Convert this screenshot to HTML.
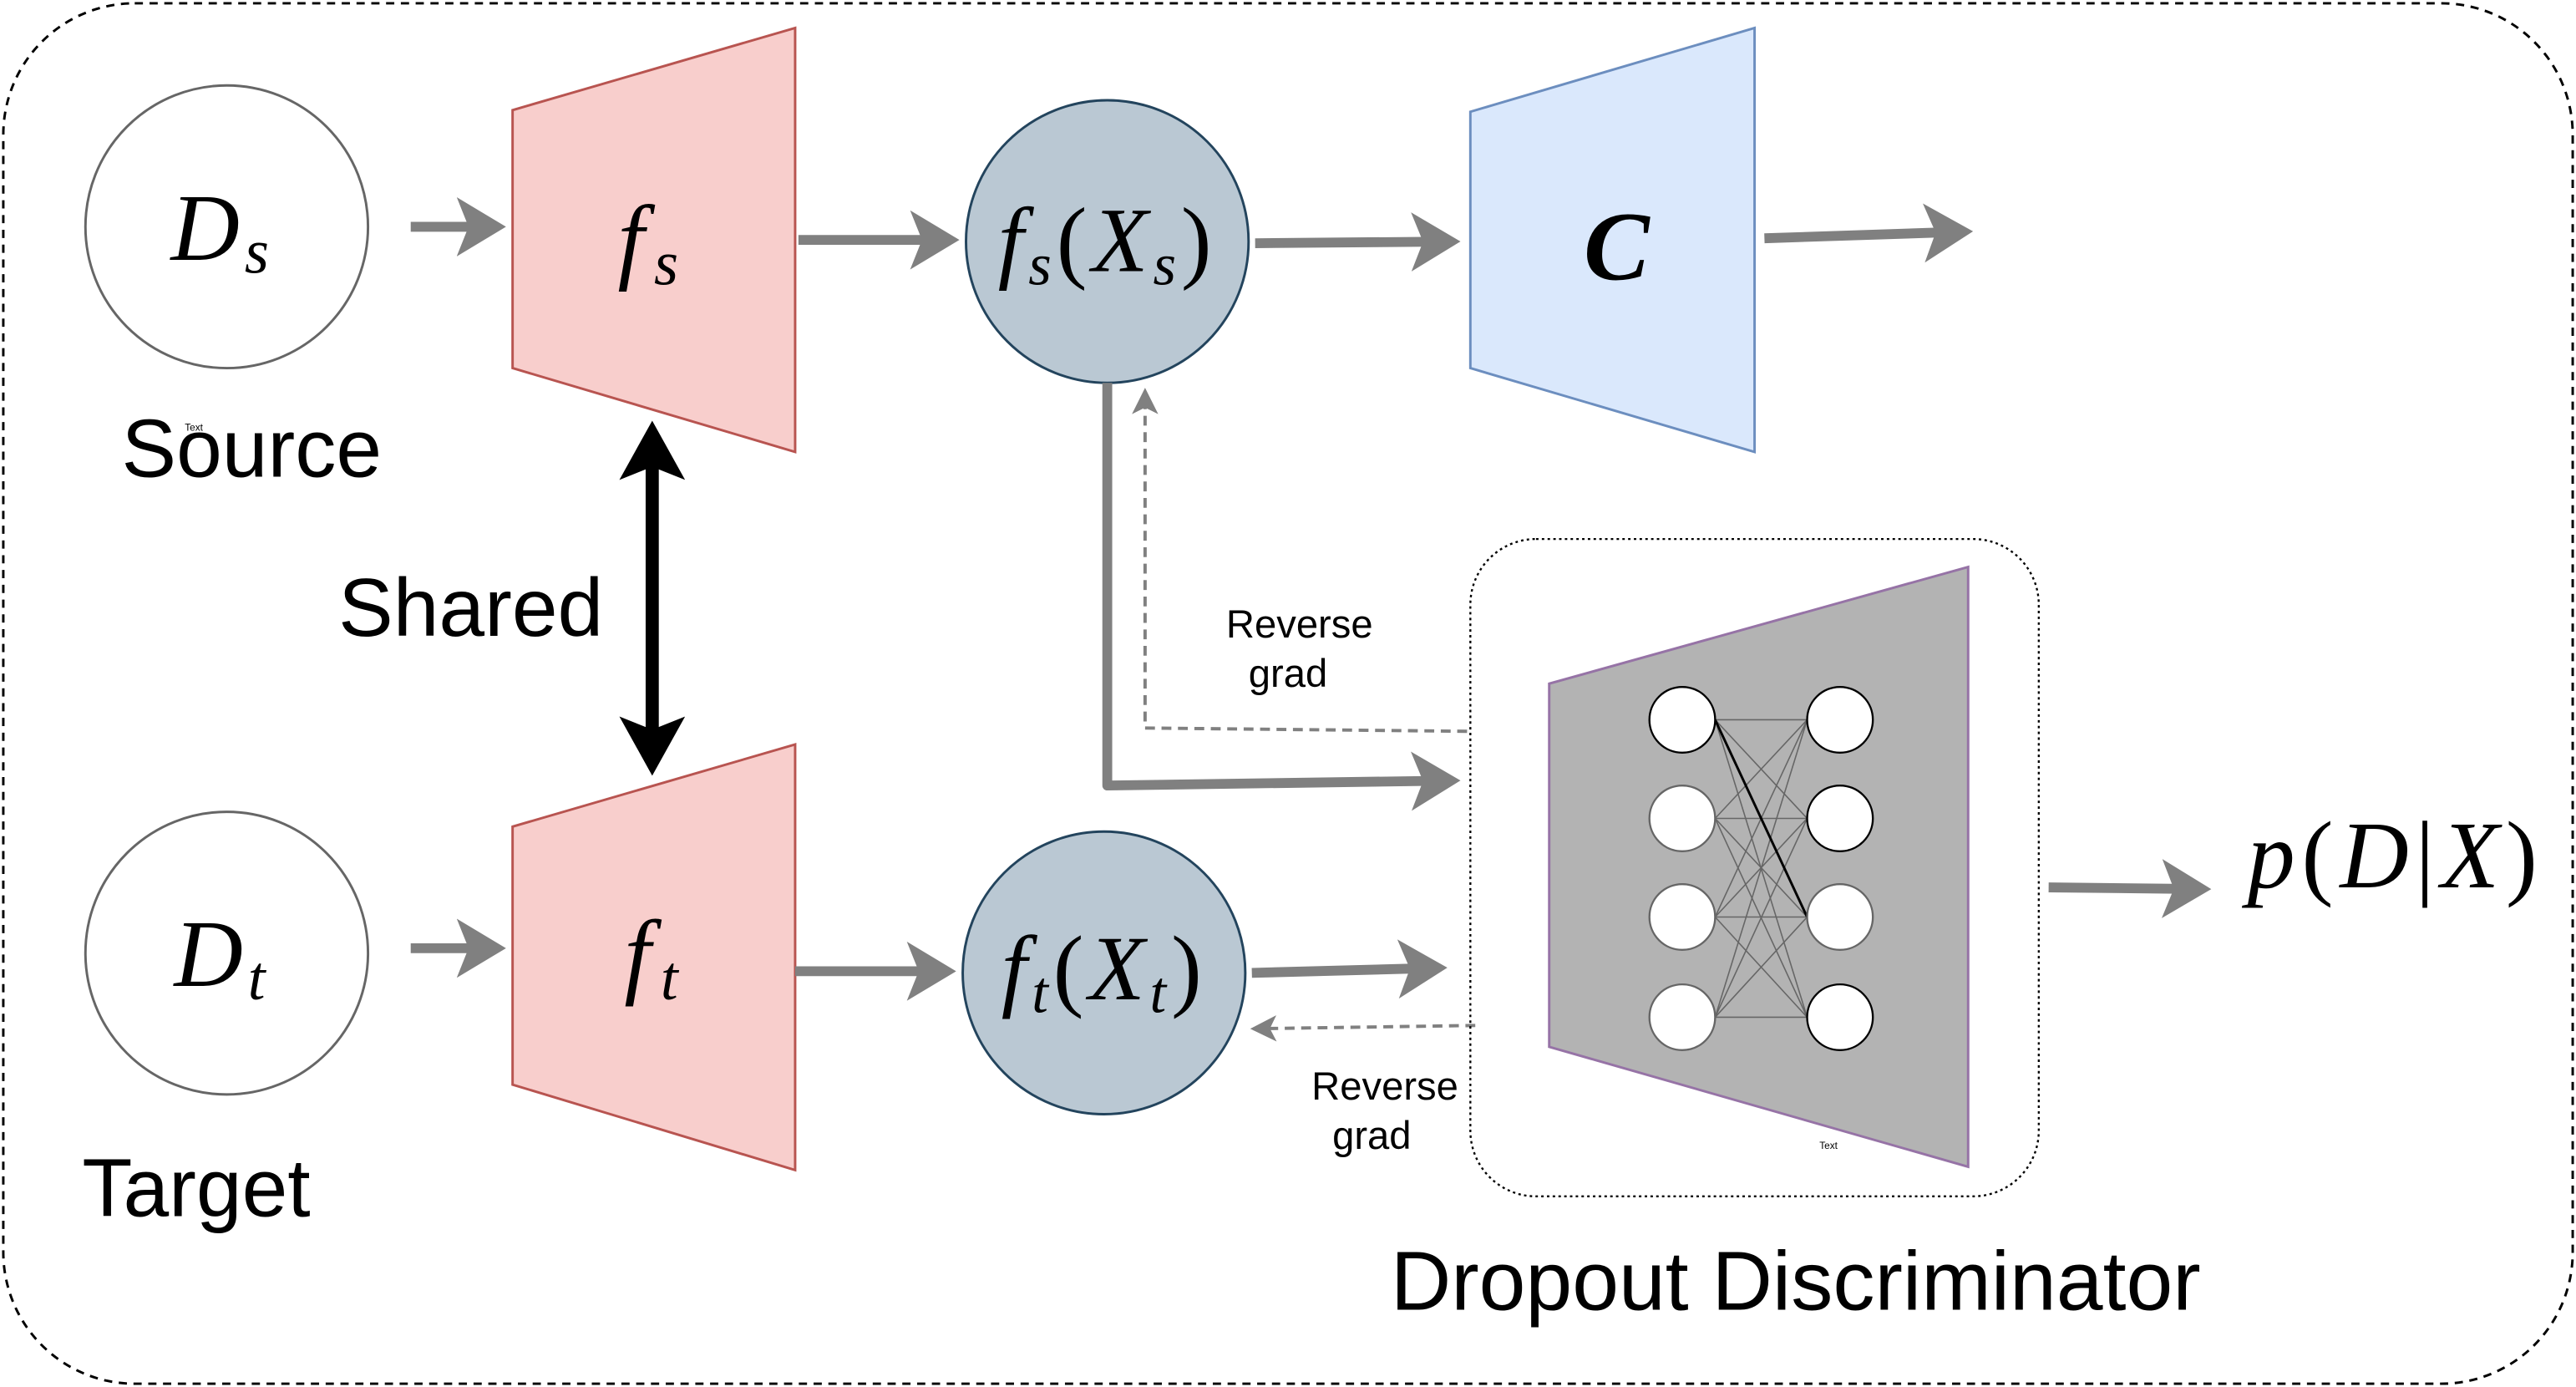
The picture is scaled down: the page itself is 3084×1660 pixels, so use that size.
<!DOCTYPE html>
<html><head><meta charset="utf-8"><style>
html,body{margin:0;padding:0;background:#fff;}
svg{display:block;}
.lab{font-family:"Liberation Serif",serif;font-style:italic;}
.sans{font-family:"Liberation Sans",sans-serif;}
</style></head><body>
<svg width="3084" height="1660" viewBox="0 0 1568 844" xmlns="http://www.w3.org/2000/svg">
<defs>
<marker id="ag" markerWidth="6" markerHeight="6" refX="4" refY="3" orient="auto" markerUnits="strokeWidth"><path d="M0,0 L5,3 L0,6 L1.2,3 Z" fill="#808080"/></marker>
<marker id="ad" markerWidth="10" markerHeight="10" refX="7" refY="5" orient="auto" markerUnits="strokeWidth"><path d="M0,1 L8,5 L0,9 L2,5 Z" fill="#808080"/></marker>
<marker id="ab" markerWidth="5" markerHeight="5" refX="3.5" refY="2.5" orient="auto-start-reverse" markerUnits="strokeWidth"><path d="M0,0 L4.5,2.5 L0,5 L1,2.5 Z" fill="#000"/></marker>
</defs>
<rect x="2" y="2" width="1564" height="840" rx="80" fill="none" stroke="#000" stroke-width="1.5" stroke-dasharray="5,4"/>
<circle cx="138" cy="138" r="86" fill="#fff" stroke="#666" stroke-width="1.5"/>
<circle cx="138" cy="580" r="86" fill="#fff" stroke="#666" stroke-width="1.5"/>
<text x="104" y="158" class="lab" font-size="58">D<tspan font-size="38" dy="8" dx="3">s</tspan></text>
<text x="106" y="600" class="lab" font-size="58">D<tspan font-size="38" dy="8" dx="3">t</tspan></text>
<text x="74" y="290" class="sans" font-size="50">Source</text>
<text x="50" y="740" class="sans" font-size="50">Target</text>
<polygon points="312,67 484,17 484,275 312,224" fill="#f8cecc" stroke="#b85450" stroke-width="1.5"/>
<polygon points="312,503 484,453 484,712 312,660" fill="#f8cecc" stroke="#b85450" stroke-width="1.5"/>
<text x="376" y="165" class="lab" font-size="58">f<tspan font-size="38" dy="8" dx="6">s</tspan></text>
<text x="380" y="600" class="lab" font-size="58">f<tspan font-size="38" dy="8" dx="6">t</tspan></text>
<polygon points="895,68 1068,17 1068,275 895,224" fill="#dae8fc" stroke="#6c8ebf" stroke-width="1.5"/>
<text x="964" y="170" class="lab" font-size="60" font-weight="bold">C</text>
<circle cx="674" cy="147" r="86" fill="#bac8d3" stroke="#23445d" stroke-width="1.5"/>
<circle cx="672" cy="592" r="86" fill="#bac8d3" stroke="#23445d" stroke-width="1.5"/>
<text x="674" y="165" class="lab" font-size="56" text-anchor="middle" letter-spacing="3">f<tspan font-size="36" dy="8">s</tspan><tspan dy="-8" font-style="normal">(</tspan>X<tspan font-size="36" dy="8">s</tspan><tspan dy="-8" font-style="normal">)</tspan></text>
<text x="672" y="608" class="lab" font-size="56" text-anchor="middle" letter-spacing="3">f<tspan font-size="36" dy="8">t</tspan><tspan dy="-8" font-style="normal">(</tspan>X<tspan font-size="36" dy="8">t</tspan><tspan dy="-8" font-style="normal">)</tspan></text>
<g stroke="#808080" stroke-width="6" fill="none" marker-end="url(#ag)">
<line x1="250" y1="138" x2="302" y2="138"/>
<line x1="250" y1="577" x2="302" y2="577"/>
<line x1="486" y1="146" x2="578" y2="146"/>
<line x1="764" y1="148" x2="883" y2="147"/>
<line x1="1074" y1="145" x2="1195" y2="141"/>
<line x1="484" y1="591" x2="576" y2="591"/>
<line x1="762" y1="592" x2="875" y2="589"/>
<line x1="1247" y1="540" x2="1340" y2="541"/>
<path d="M674,233 L674,478 L883,475" stroke-linejoin="round"/>
</g>
<g stroke="#808080" stroke-width="2" fill="none" stroke-dasharray="6,4" marker-end="url(#ad)">
<path d="M893,445 L697,443 L697,238"/>
<line x1="898" y1="624" x2="763" y2="626"/>
</g>
<line x1="397" y1="264" x2="397" y2="464" stroke="#000" stroke-width="8" marker-end="url(#ab)" marker-start="url(#ab)"/>
<text x="206" y="387" class="sans" font-size="50">Shared</text>
<rect x="895" y="328" width="346" height="400" rx="40" fill="none" stroke="#000" stroke-width="1.2" stroke-dasharray="1.5,2"/>
<polygon points="943,416 1198,345 1198,710 943,637" fill="#b3b3b3" stroke="#9673a6" stroke-width="1.5"/>
<g stroke="#666" stroke-width="0.8">
<line x1="1044" y1="438" x2="1100" y2="438"/><line x1="1044" y1="438" x2="1100" y2="498"/><line x1="1044" y1="438" x2="1100" y2="558"/><line x1="1044" y1="438" x2="1100" y2="619"/>
<line x1="1044" y1="498" x2="1100" y2="438"/><line x1="1044" y1="498" x2="1100" y2="498"/><line x1="1044" y1="498" x2="1100" y2="558"/><line x1="1044" y1="498" x2="1100" y2="619"/>
<line x1="1044" y1="558" x2="1100" y2="438"/><line x1="1044" y1="558" x2="1100" y2="498"/><line x1="1044" y1="558" x2="1100" y2="558"/><line x1="1044" y1="558" x2="1100" y2="619"/>
<line x1="1044" y1="619" x2="1100" y2="438"/><line x1="1044" y1="619" x2="1100" y2="498"/><line x1="1044" y1="619" x2="1100" y2="558"/><line x1="1044" y1="619" x2="1100" y2="619"/>
</g>
<line x1="1044" y1="438" x2="1100" y2="558" stroke="#000" stroke-width="1.5"/>
<g fill="#fff" stroke="#666" stroke-width="1.2">
<circle cx="1024" cy="438" r="20" stroke="#000"/><circle cx="1024" cy="498" r="20"/><circle cx="1024" cy="558" r="20"/><circle cx="1024" cy="619" r="20"/>
<circle cx="1120" cy="438" r="20" stroke="#000"/><circle cx="1120" cy="498" r="20" stroke="#000"/><circle cx="1120" cy="558" r="20"/><circle cx="1120" cy="619" r="20" stroke="#000"/>
</g>
<text x="1113" y="699" class="sans" font-size="6" text-anchor="middle">Text</text>
<text x="118" y="262" class="sans" font-size="6" text-anchor="middle">Text</text>
<text x="1093" y="797" class="sans" font-size="51" text-anchor="middle">Dropout Discriminator</text>
<text x="791" y="388" class="sans" font-size="24" text-anchor="middle">Reverse</text>
<text x="784" y="418" class="sans" font-size="24" text-anchor="middle">grad</text>
<text x="843" y="669" class="sans" font-size="24" text-anchor="middle">Reverse</text>
<text x="835" y="699" class="sans" font-size="24" text-anchor="middle">grad</text>
<text x="1368" y="540" class="lab" font-size="58" letter-spacing="4">p<tspan font-style="normal">(</tspan>D<tspan font-style="normal">|</tspan>X<tspan font-style="normal">)</tspan></text>
</svg>
</body></html>
